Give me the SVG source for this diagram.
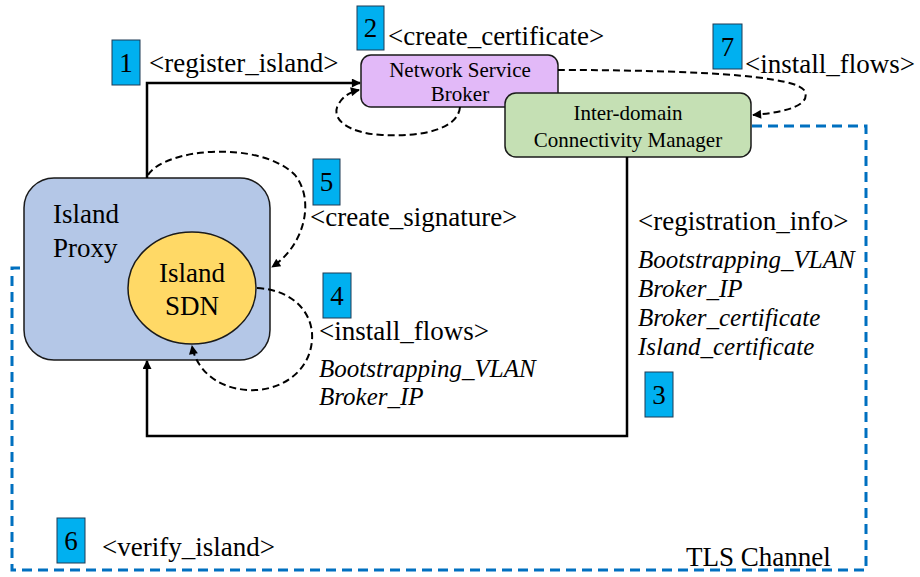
<svg xmlns="http://www.w3.org/2000/svg" width="920" height="577" viewBox="0 0 920 577">
  <defs>
    <marker id="arrow" viewBox="0 0 10 10" refX="9" refY="5" markerWidth="11" markerHeight="9" markerUnits="userSpaceOnUse" orient="auto">
      <path d="M0,0 L10,5 L0,10 z" fill="#000"/>
    </marker>
  </defs>

  <!-- TLS channel outline -->
  <path d="M752,126 H866 V570 H12 V268 H24" fill="none" stroke="#0070c0" stroke-width="3" stroke-dasharray="10 6"/>

  <!-- Island Proxy with embedded Island SDN -->
  <g id="island-proxy">
    <rect x="24" y="178" width="246" height="182" rx="30" ry="30" fill="#b4c7e7" stroke="#1a1a1a" stroke-width="1.5"/>
    <text font-family="Liberation Serif" font-size="27" x="53" y="223">Island</text>
    <text font-family="Liberation Serif" font-size="27" x="53" y="257">Proxy</text>
  </g>
  <g id="island-sdn">
    <ellipse cx="192" cy="288" rx="64" ry="56" fill="#ffd966" stroke="#1a1a1a" stroke-width="1.5"/>
    <text font-family="Liberation Serif" font-size="27" x="192" y="282" text-anchor="middle">Island</text>
    <text font-family="Liberation Serif" font-size="27" x="192" y="315" text-anchor="middle">SDN</text>
  </g>

  <!-- Network Service Broker -->
  <g id="broker">
    <rect x="361" y="55" width="197" height="52" rx="10" ry="10" fill="#e2b9f8" stroke="#1a1a1a" stroke-width="1.5"/>
    <text font-family="Liberation Serif" font-size="21" x="460" y="77" text-anchor="middle">Network Service</text>
    <text font-family="Liberation Serif" font-size="21" x="460" y="101" text-anchor="middle">Broker</text>
  </g>

  <!-- Inter-domain Connectivity Manager -->
  <g id="icm">
    <rect x="505" y="93" width="246" height="64" rx="11" ry="11" fill="#c5e0b4" stroke="#1a1a1a" stroke-width="1.5"/>
    <text font-family="Liberation Serif" font-size="21" x="628" y="120" text-anchor="middle">Inter-domain</text>
    <text font-family="Liberation Serif" font-size="21" x="628" y="147" text-anchor="middle">Connectivity Manager</text>
  </g>

  <!-- Connectors -->
  <g id="connectors" fill="none" stroke="#000">
    <path d="M147,178 V83 H360" stroke-width="2.5" marker-end="url(#arrow)"/>
    <path d="M627,157 V436 H147 V361" stroke-width="2.5" marker-end="url(#arrow)"/>
    <g stroke-width="2" stroke-dasharray="7 4">
      <path d="M460,107 C458,130 420,137 382,135 C346,133 331,118 338,105 C343,96 350,92 359,90" marker-end="url(#arrow)"/>
      <path d="M558,70 C640,70 790,72 804,90 C812,104 790,112 753,115" marker-end="url(#arrow)"/>
      <path d="M148,175 C165,148 260,140 295,175 C315,200 305,245 272,267" marker-end="url(#arrow)"/>
      <path d="M257,288 C295,290 314,315 312,340 C310,372 280,392 248,390 C215,388 196,368 192,346" marker-end="url(#arrow)"/>
    </g>
  </g>

  <!-- Step badges -->
  <g fill="#00b0f0" stroke="#1f3a55" stroke-width="1">
    <rect id="step-1" x="112" y="40" width="28" height="45"/>
    <rect id="step-2" x="357" y="6" width="27" height="44"/>
    <rect id="step-3" x="645" y="372" width="28" height="45"/>
    <rect id="step-4" x="323" y="273" width="28" height="45"/>
    <rect id="step-5" x="313" y="159" width="27" height="46"/>
    <rect id="step-6" x="57" y="518" width="28" height="45"/>
    <rect id="step-7" x="713" y="24" width="29" height="45"/>
  </g>
  <text font-family="Liberation Serif" font-size="27" text-anchor="middle" x="126" y="72">1</text>
  <text font-family="Liberation Serif" font-size="27" text-anchor="middle" x="370.5" y="37">2</text>
  <text font-family="Liberation Serif" font-size="27" text-anchor="middle" x="659" y="404">3</text>
  <text font-family="Liberation Serif" font-size="27" text-anchor="middle" x="337" y="305">4</text>
  <text font-family="Liberation Serif" font-size="27" text-anchor="middle" x="326.5" y="191">5</text>
  <text font-family="Liberation Serif" font-size="27" text-anchor="middle" x="71" y="550">6</text>
  <text font-family="Liberation Serif" font-size="27" text-anchor="middle" x="727.5" y="56">7</text>

  <!-- Message labels -->
  <text font-family="Liberation Serif" font-size="27" x="149" y="72">&lt;register_island&gt;</text>
  <text font-family="Liberation Serif" font-size="27" x="388" y="45">&lt;create_certificate&gt;</text>
  <text font-family="Liberation Serif" font-size="27" x="745" y="73">&lt;install_flows&gt;</text>
  <text font-family="Liberation Serif" font-size="27" x="310" y="226">&lt;create_signature&gt;</text>
  <text font-family="Liberation Serif" font-size="27" x="319" y="340">&lt;install_flows&gt;</text>
  <text font-family="Liberation Serif" font-size="25" font-style="italic" x="319" y="377">Bootstrapping_VLAN</text>
  <text font-family="Liberation Serif" font-size="25" font-style="italic" x="319" y="405">Broker_IP</text>
  <text font-family="Liberation Serif" font-size="27" x="638" y="230">&lt;registration_info&gt;</text>
  <text font-family="Liberation Serif" font-size="25" font-style="italic" x="638" y="268">Bootstrapping_VLAN</text>
  <text font-family="Liberation Serif" font-size="25" font-style="italic" x="638" y="297">Broker_IP</text>
  <text font-family="Liberation Serif" font-size="25" font-style="italic" x="638" y="326">Broker_certificate</text>
  <text font-family="Liberation Serif" font-size="25" font-style="italic" x="638" y="355">Island_certificate</text>
  <text font-family="Liberation Serif" font-size="27" x="102" y="556">&lt;verify_island&gt;</text>
  <text font-family="Liberation Serif" font-size="27" x="686" y="566">TLS Channel</text>
</svg>
